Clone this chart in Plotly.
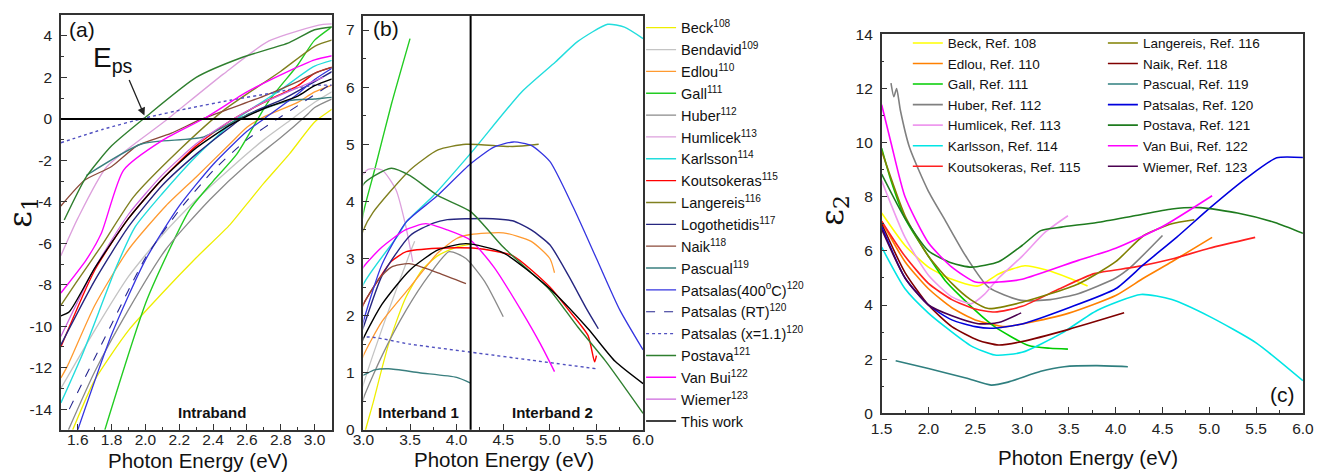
import plotly.graph_objects as go

W, H = 1319, 475
# the rendered page carries an 8px body margin and is scaled back to 1319x475;
# reference pixel positions are mapped through this before use
SX, SY, OFF = 1335 / 1319, 491 / 475, 8

# ---------------- epsilon_1 data (panels a & b), energy in eV ----------------
beck_x = [1.57, 1.7, 1.9, 2.1, 2.3, 2.5, 2.6, 2.7, 2.85, 3.0, 3.1, 3.27, 3.45, 3.63, 3.8, 4.0, 4.15]
beck_y = [-15.0, -12.6, -10.2, -8.4, -6.7, -5.1, -4.1, -3.1, -1.7, -0.15, 0.45, 1.5, 2.3, 2.8, 3.05, 3.2, 3.25]
bendavid_x = [1.5, 1.7, 1.9, 2.1, 2.3, 2.5, 2.7, 2.85, 3.0, 3.25, 3.5, 3.55]
bendavid_y = [-13.0, -10.2, -7.6, -5.6, -3.9, -2.4, -1.0, -0.1, 0.8, 2.0, 3.1, 3.3]
edlou_x = [1.5, 1.54, 1.7, 1.9, 2.12, 2.3, 2.5, 2.6, 2.7, 2.9, 3.0, 3.2, 3.5, 3.8, 4.0, 4.15, 4.5, 4.8, 5.0, 5.05]
edlou_y = [-12.5, -11.9, -9.0, -6.3, -4.2, -2.8, -1.2, -0.4, 0.1, 0.8, 1.3, 1.9, 2.5, 3.1, 3.35, 3.42, 3.45, 3.3, 3.0, 2.75]
gall_x = [1.76, 2.01, 2.26, 2.4, 2.54, 2.73, 2.9, 3.0, 3.12, 3.3, 3.5]
gall_y = [-15.0, -8.7, -4.4, -3.0, -1.7, 0.88, 2.6, 3.8, 4.55, 5.7, 6.85]
huber_x = [1.545, 1.7, 1.9, 2.12, 2.38, 2.6, 2.8, 2.96, 3.0, 3.2, 3.46, 3.7, 3.92, 4.1, 4.3, 4.5]
huber_y = [-15.0, -12.2, -9.2, -6.3, -3.9, -2.2, -0.9, 0.24, 0.55, 1.3, 2.1, 2.7, 3.12, 3.0, 2.6, 1.98]
humlicek_x = [1.5, 1.6, 1.77, 2.12, 2.46, 2.73, 3.05, 3.2, 3.35, 3.45, 3.53]
humlicek_y = [-6.6, -4.8, -2.32, -0.08, 2.16, 3.76, 4.56, 4.55, 4.2, 3.6, 2.94]
karlsson_x = [1.5, 1.63, 1.83, 1.94, 2.1, 2.3, 2.54, 2.8, 3.0, 3.37, 3.46, 3.75, 4.15, 4.7, 5.06, 5.3, 5.62, 5.8, 6.0]
karlsson_y = [-13.7, -11.3, -7.1, -5.2, -3.6, -1.8, 0.0, 1.4, 2.55, 3.4, 3.64, 4.1, 4.84, 5.92, 6.44, 6.8, 7.1, 7.05, 6.85]
koutso_x = [1.5, 1.7, 1.9, 2.1, 2.3, 2.5, 2.7, 2.9, 3.0, 3.17, 3.3, 3.46, 3.8, 4.2, 4.6, 5.0, 5.2, 5.41, 5.48, 5.5]
koutso_y = [-11.0, -7.3, -4.8, -2.9, -1.3, -0.1, 0.8, 1.6, 2.2, 2.65, 2.95, 3.12, 3.18, 3.18, 3.05, 2.5, 2.1, 1.65, 1.19, 1.3]
langereis_x = [1.5, 1.59, 1.75, 1.93, 2.2, 2.46, 2.8, 3.0, 3.1, 3.5, 3.8, 4.1, 4.6, 4.88]
langereis_y = [-9.0, -7.9, -6.0, -3.76, -1.5, 0.4, 2.3, 3.5, 3.8, 4.55, 4.9, 5.0, 4.96, 5.0]
logo_x = [1.5, 1.7, 1.9, 2.1, 2.3, 2.5, 2.6, 2.8, 3.0, 3.2, 3.5, 3.75, 3.9, 4.3, 4.6, 4.8, 5.0, 5.2, 5.4, 5.52]
logo_y = [-10.9, -7.8, -5.2, -3.2, -1.7, -0.4, 0.2, 0.9, 1.8, 2.7, 3.4, 3.62, 3.68, 3.7, 3.66, 3.5, 3.24, 2.7, 2.1, 1.77]
naik_x = [1.5, 1.64, 1.8, 1.95, 2.15, 2.32, 2.5, 2.7, 2.9, 3.0, 3.17, 3.3, 3.49, 3.8, 4.1]
naik_y = [-4.2, -2.96, -2.3, -1.3, -0.7, -0.05, 0.5, 1.1, 1.8, 2.2, 2.65, 2.85, 2.91, 2.75, 2.56]
pascual_x = [1.65, 1.98, 2.34, 2.57, 2.85, 3.0, 3.12, 3.27, 3.6, 4.0, 4.15]
pascual_y = [-2.73, -1.2, -0.88, 0.08, 0.88, 0.96, 1.05, 1.07, 1.0, 0.92, 0.82]
pats400_x = [1.6, 1.8, 2.0, 2.2, 2.4, 2.6, 2.7, 2.9, 3.0, 3.2, 3.46, 3.78, 4.15, 4.4, 4.61, 4.8, 5.0, 5.25, 5.5, 5.75, 6.0]
pats400_y = [-15.0, -10.4, -6.8, -4.2, -2.2, -0.6, 0.0, 1.2, 1.9, 2.9, 3.64, 4.08, 4.66, 4.95, 5.04, 4.98, 4.7, 3.9, 3.0, 2.1, 1.4]
patsRT_x = [1.55, 1.8, 2.0, 2.2, 2.4, 2.6, 2.8, 3.1]
patsRT_y = [-14.0, -9.9, -6.7, -4.4, -2.5, -1.0, 0.1, 1.7]
pats11_x = [1.5, 1.75, 2.0, 2.25, 2.5, 2.75, 3.0, 3.5, 4.15, 4.8, 5.5]
pats11_y = [-1.15, -0.5, 0.05, 0.5, 0.9, 1.25, 1.62, 1.5, 1.36, 1.22, 1.07]
postava_x = [1.52, 1.65, 1.8, 2.0, 2.3, 2.57, 2.85, 3.0, 3.12, 3.3, 3.5, 3.8, 4.15, 4.5, 4.8, 5.0, 5.3, 5.6, 6.0]
postava_y = [-4.88, -2.8, -1.3, 0.08, 2.0, 2.96, 3.68, 4.3, 4.45, 4.58, 4.45, 4.1, 3.82, 3.2, 2.75, 2.45, 1.8, 1.2, 0.29]
vanbui_x = [1.5, 1.65, 1.74, 1.87, 2.1, 2.36, 2.6, 2.85, 3.0, 3.2, 3.45, 3.67, 3.9, 4.15, 4.4, 4.7, 4.9, 5.05]
vanbui_y = [-8.4, -6.8, -5.5, -2.48, -1.04, 0.08, 1.3, 2.32, 2.85, 3.2, 3.5, 3.61, 3.5, 3.32, 2.85, 2.07, 1.5, 1.02]
wiemer_x = [1.5, 1.7, 1.9, 2.1, 2.3, 2.5, 2.7, 2.9, 3.05]
wiemer_y = [-10.5, -7.2, -4.6, -2.7, -1.2, -0.1, 0.8, 1.5, 2.0]
thiswork_x = [1.5, 1.55, 1.7, 1.9, 2.1, 2.3, 2.5, 2.7, 2.9, 3.0, 3.2, 3.5, 3.8, 4.1, 4.5, 5.0, 5.41, 5.7, 6.0]
thiswork_y = [-9.5, -9.3, -7.2, -4.8, -2.9, -1.4, -0.3, 0.5, 1.1, 1.6, 2.2, 2.8, 3.15, 3.26, 3.1, 2.47, 1.77, 1.2, 0.81]

# ---------------- epsilon_2 data (panel c) ----------------
beck2_x = [1.5, 1.75, 2.0, 2.25, 2.53, 2.75, 3.03, 3.25, 3.5, 3.7]
beck2_y = [7.4, 6.2, 5.4, 4.95, 4.7, 5.15, 5.45, 5.3, 5.0, 4.7]
edlou2_x = [1.5, 1.75, 2.0, 2.25, 2.5, 2.82, 3.0, 3.5, 4.0, 4.3, 4.6, 5.03]
edlou2_y = [7.1, 5.6, 4.6, 3.9, 3.45, 3.2, 3.3, 3.7, 4.35, 5.0, 5.6, 6.5]
gall2_x = [1.5, 1.6, 1.75, 2.0, 2.18, 2.5, 2.71, 3.07, 3.3, 3.49]
gall2_y = [9.8, 8.6, 7.2, 5.8, 4.9, 3.8, 3.19, 2.5, 2.4, 2.37]
huber2_x = [1.6, 1.63, 1.66, 1.7, 1.8, 2.0, 2.18, 2.4, 2.64, 2.99, 3.3, 3.6, 4.0, 4.16, 4.5]
huber2_y = [12.2, 11.7, 12.0, 11.2, 9.8, 8.2, 7.12, 5.8, 4.66, 4.17, 4.2, 4.42, 5.0, 5.4, 6.57]
humlicek2_x = [1.5, 1.75, 2.0, 2.25, 2.46, 2.6, 2.75, 3.0, 3.25, 3.49]
humlicek2_y = [8.6, 6.5, 5.1, 4.3, 4.05, 4.4, 5.0, 5.8, 6.7, 7.3]
karlsson2_x = [1.5, 1.75, 2.0, 2.18, 2.45, 2.71, 3.0, 3.42, 3.8, 4.27, 4.6, 5.01, 5.5, 6.0]
karlsson2_y = [6.14, 4.6, 3.7, 3.19, 2.5, 2.15, 2.25, 2.95, 3.8, 4.39, 4.2, 3.56, 2.6, 1.2]
koutso2_x = [1.5, 1.75, 2.0, 2.25, 2.5, 2.71, 3.0, 3.4, 3.77, 4.2, 4.6, 5.0, 5.49]
koutso2_y = [7.1, 5.8, 4.8, 4.2, 3.85, 3.74, 3.95, 4.6, 5.16, 5.4, 5.7, 6.1, 6.5]
langereis2_x = [1.5, 1.75, 2.0, 2.25, 2.45, 2.64, 3.0, 3.6, 4.0, 4.3, 4.6, 4.84]
langereis2_y = [9.7, 7.3, 5.8, 4.8, 4.2, 3.87, 4.1, 4.78, 5.6, 6.57, 7.0, 7.15]
naik2_x = [1.5, 1.75, 2.0, 2.25, 2.53, 2.75, 3.0, 3.5, 4.09]
naik2_y = [7.0, 5.2, 4.0, 3.2, 2.7, 2.52, 2.65, 3.1, 3.71]
pascual2_x = [1.65, 2.0, 2.4, 2.67, 2.85, 3.2, 3.45, 3.8, 4.13]
pascual2_y = [1.94, 1.65, 1.3, 1.04, 1.15, 1.55, 1.72, 1.76, 1.72]
patsalas2_x = [1.5, 1.75, 2.0, 2.25, 2.5, 2.67, 3.0, 3.5, 4.0, 4.3, 4.65, 5.01, 5.4, 5.72, 6.0]
patsalas2_y = [6.9, 5.0, 4.0, 3.45, 3.2, 3.14, 3.3, 3.9, 4.6, 5.5, 6.5, 7.6, 8.7, 9.44, 9.45]
postava2_x = [1.5, 1.75, 2.0, 2.25, 2.46, 2.75, 3.0, 3.2, 3.42, 3.8, 4.2, 4.6, 4.9, 5.3, 5.7, 6.0]
postava2_y = [8.84, 7.2, 6.0, 5.55, 5.4, 5.6, 6.2, 6.75, 6.88, 7.05, 7.3, 7.55, 7.6, 7.4, 7.05, 6.65]
vanbui2_x = [1.5, 1.6, 1.75, 2.0, 2.25, 2.5, 2.75, 3.0, 3.6, 4.0, 4.5, 5.03]
vanbui2_y = [11.4, 10.0, 8.0, 6.3, 5.4, 4.85, 4.85, 4.95, 5.65, 6.1, 6.9, 8.04]
wiemer2_x = [1.5, 1.75, 2.0, 2.25, 2.53, 2.75, 2.99]
wiemer2_y = [6.8, 5.0, 4.0, 3.6, 3.31, 3.35, 3.71]

# tick labels
a_xticks = [1.6, 1.8, 2.0, 2.2, 2.4, 2.6, 2.8, 3.0]
a_yticks = [-14, -12, -10, -8, -6, -4, -2, 0, 2, 4]
b_xticks = [3.0, 3.5, 4.0, 4.5, 5.0, 5.5, 6.0]
b_yticks = [0, 1, 2, 3, 4, 5, 6, 7]
c_xticks = [1.5, 2.0, 2.5, 3.0, 3.5, 4.0, 4.5, 5.0, 5.5, 6.0]
c_yticks = [0, 2, 4, 6, 8, 10, 12, 14]

# (name, x, y, color, dash, width, drawn in panel b?)
e1_series = [
    ("Beck<sup>108</sup>", beck_x, beck_y, "#EEEE00", "solid", 1.3, True),
    ("Bendavid<sup>109</sup>", bendavid_x, bendavid_y, "#C4C4C4", "solid", 1.3, True),
    ("Edlou<sup>110</sup>", edlou_x, edlou_y, "#FF9A30", "solid", 1.3, True),
    ("Gall<sup>111</sup>", gall_x, gall_y, "#22CC22", "solid", 1.4, True),
    ("Huber<sup>112</sup>", huber_x, huber_y, "#8A8A8A", "solid", 1.3, True),
    ("Humlicek<sup>113</sup>", humlicek_x, humlicek_y, "#DDA0DD", "solid", 1.3, True),
    ("Karlsson<sup>114</sup>", karlsson_x, karlsson_y, "#22DDDD", "solid", 1.4, True),
    ("Koutsokeras<sup>115</sup>", koutso_x, koutso_y, "#FF0000", "solid", 1.4, True),
    ("Langereis<sup>116</sup>", langereis_x, langereis_y, "#808020", "solid", 1.4, True),
    ("Logothetidis<sup>117</sup>", logo_x, logo_y, "#262680", "solid", 1.4, True),
    ("Naik<sup>118</sup>", naik_x, naik_y, "#8B4A3A", "solid", 1.3, True),
    ("Pascual<sup>119</sup>", pascual_x, pascual_y, "#3A7F7F", "solid", 1.4, True),
    ("Patsalas(400<sup>o</sup>C)<sup>120</sup>", pats400_x, pats400_y, "#3535E0", "solid", 1.3, True),
    ("Patsalas (RT)<sup>120</sup>", patsRT_x, patsRT_y, "#262690", "dash", 1.1, False),
    ("Patsalas (x=1.1)<sup>120</sup>", pats11_x, pats11_y, "#5050C0", "dot", 1.4, True),
    ("Postava<sup>121</sup>", postava_x, postava_y, "#2F7F2F", "solid", 1.4, True),
    ("Van Bui<sup>122</sup>", vanbui_x, vanbui_y, "#FF00FF", "solid", 1.4, True),
    ("Wiemer<sup>123</sup>", wiemer_x, wiemer_y, "#CC66DD", "solid", 1.2, False),
    ("This work", thiswork_x, thiswork_y, "#000000", "solid", 1.4, True),
]

e2_col1 = [
    ("Beck, Ref. 108", beck2_x, beck2_y, "#FFFF00"),
    ("Edlou, Ref. 110", edlou2_x, edlou2_y, "#FF8000"),
    ("Gall, Ref. 111", gall2_x, gall2_y, "#00CC00"),
    ("Huber, Ref. 112", huber2_x, huber2_y, "#808080"),
    ("Humlicek, Ref. 113", humlicek2_x, humlicek2_y, "#EE99EE"),
    ("Karlsson, Ref. 114", karlsson2_x, karlsson2_y, "#00E5E5"),
    ("Koutsokeras, Ref. 115", koutso2_x, koutso2_y, "#FF2020"),
]
e2_col2 = [
    ("Langereis, Ref. 116", langereis2_x, langereis2_y, "#808000"),
    ("Naik, Ref. 118", naik2_x, naik2_y, "#800000"),
    ("Pascual, Ref. 119", pascual2_x, pascual2_y, "#2F7F7F"),
    ("Patsalas, Ref. 120", patsalas2_x, patsalas2_y, "#0000DD"),
    ("Postava, Ref. 121", postava2_x, postava2_y, "#1E7B1E"),
    ("Van Bui, Ref. 122", vanbui2_x, vanbui2_y, "#FF00FF"),
    ("Wiemer, Ref. 123", wiemer2_x, wiemer2_y, "#4B0050"),
]

FONT = "Liberation Sans, Arial, sans-serif"


def px(v):
    return (v * SX - OFF) / W


def py(v):
    return 1 - (v * SY - OFF) / H


fig = go.Figure()

# panel (a) traces
for name, x, y, c, d, w, inb in e1_series:
    fig.add_trace(go.Scatter(
        x=x, y=y, mode="lines", name=name, xaxis="x", yaxis="y",
        line=dict(color=c, dash=d, width=w, shape="spline", smoothing=0.6),
        showlegend=False, hoverinfo="skip"))

# panel (b) traces, which also carry the legend entries (in legend order)
for name, x, y, c, d, w, inb in e1_series:
    fig.add_trace(go.Scatter(
        x=x if inb else [None], y=y if inb else [None], mode="lines", name=name,
        xaxis="x2", yaxis="y2",
        line=dict(color=c, dash=d, width=w, shape="spline", smoothing=0.6),
        showlegend=True, legend="legend", hoverinfo="skip"))

# panel (c) traces
for lg, group in (("legend2", e2_col1), ("legend3", e2_col2)):
    for name, x, y, c in group:
        fig.add_trace(go.Scatter(
            x=x, y=y, mode="lines", name=name, xaxis="x3", yaxis="y3",
            line=dict(color=c, width=1.6, shape="spline", smoothing=0.6),
            showlegend=True, legend=lg, hoverinfo="skip"))

axis_common = dict(
    showline=True, linecolor="#333333", linewidth=1.5, mirror=True,
    ticks="inside", ticklen=6, tickwidth=1.2, tickcolor="#333333",
    showgrid=False, zeroline=False,
    tickfont=dict(family=FONT, size=15.5, color="#222222"),
)

fig.update_layout(
    width=W, height=H,
    margin=dict(l=0, r=0, t=0, b=0),
    paper_bgcolor="white", plot_bgcolor="white",
    font=dict(family=FONT, color="#111111"),
    xaxis=dict(domain=[px(58), px(330)], range=[1.5, 3.1], anchor="y",
               tickvals=a_xticks, ticktext=[f"{v:.1f}" for v in a_xticks],
               minor=dict(ticks="inside", ticklen=3, dtick=0.1, tickcolor="#333333"),
               ticklabelstandoff=-5, **axis_common),
    yaxis=dict(domain=[py(430), py(14)], range=[-15, 5], anchor="x",
               tickvals=a_yticks, ticktext=[str(v) for v in a_yticks],
               minor=dict(ticks="inside", ticklen=3, dtick=1, tickcolor="#333333"),
               ticklabelstandoff=4, **axis_common),
    xaxis2=dict(domain=[px(362), px(643)], range=[3.0, 6.0], anchor="y2",
                tickvals=b_xticks, ticktext=[f"{v:.1f}" for v in b_xticks],
                minor=dict(ticks="inside", ticklen=3, dtick=0.25, tickcolor="#333333"),
                ticklabelstandoff=-5, **axis_common),
    yaxis2=dict(domain=[py(430), py(14.5)], range=[0, 7.25], anchor="x2",
                tickvals=b_yticks, ticktext=[str(v) for v in b_yticks],
                minor=dict(ticks="inside", ticklen=3, dtick=0.5, tickcolor="#333333"),
                ticklabelstandoff=4, **axis_common),
    xaxis3=dict(domain=[px(882.7), px(1306)], range=[1.5, 6.0], anchor="y3",
                tickvals=c_xticks, ticktext=[f"{v:.1f}" for v in c_xticks],
                minor=dict(ticks="inside", ticklen=3, dtick=0.25, tickcolor="#333333"),
                ticklabelstandoff=0, **axis_common),
    yaxis3=dict(domain=[py(413.3), py(33.3)], range=[0, 14], anchor="x3",
                tickvals=c_yticks, ticktext=[str(v) for v in c_yticks],
                minor=dict(ticks="inside", ticklen=3, dtick=1, tickcolor="#333333"),
                ticklabelstandoff=4, **axis_common),
    legend=dict(x=px(641), y=py(10.5), xanchor="left", yanchor="top",
                bgcolor="rgba(0,0,0,0)", traceorder="normal", tracegroupgap=0,
                font=dict(family=FONT, size=14.5, color="#111111")),
    legend2=dict(x=px(909), y=py(26.5), xanchor="left", yanchor="top",
                 bgcolor="rgba(0,0,0,0)", traceorder="normal", tracegroupgap=0,
                 font=dict(family=FONT, size=13.5, color="#111111")),
    legend3=dict(x=px(1105), y=py(26.5), xanchor="left", yanchor="top",
                 bgcolor="rgba(0,0,0,0)", traceorder="normal", tracegroupgap=0,
                 font=dict(family=FONT, size=13.5, color="#111111")),
)

# reference lines
fig.add_shape(type="line", xref="x domain", yref="y", x0=0, x1=1, y0=0, y1=0,
              line=dict(color="black", width=2), layer="above")
fig.add_shape(type="line", xref="x2", yref="y2 domain", x0=4.15, x1=4.15, y0=0, y1=1,
              line=dict(color="black", width=2), layer="above")


def label(text, xp, yp, size, family=FONT, angle=0):
    return dict(text=text, x=px(xp), y=py(yp), xref="paper", yref="paper",
                xanchor="center", yanchor="middle", showarrow=False, textangle=angle,
                font=dict(size=size, family=family, color="#111111"))


ann = [
    label("(a)", 79, 28, 21),
    label("(b)", 385, 27, 21),
    label("(c)", 1285, 395, 21),
    label("<b>Intraband</b>", 210, 413, 15),
    label("<b>Interband 1</b>", 417, 413, 15),
    label("<b>Interband 2</b>", 552, 413, 15),
    label("E<sub>ps</sub>", 110, 58, 28),
    label("Photon Energy (eV)", 196, 461, 20.5),
    label("Photon Energy (eV)", 503, 460, 20.5),
    label("Photon Energy (eV)", 1090, 458, 20.5),
    label("ε<sub>1</sub>", 19, 212, 32, "DejaVu Serif, serif", -90),
    label("ε<sub>2</sub>", 834, 210, 32, "DejaVu Serif, serif", -90),
    dict(text="", x=1.994, y=0.16, xref="x", yref="y", ax=1.9, ay=1.95,
         axref="x", ayref="y", showarrow=True, arrowhead=2, arrowsize=1.2,
         arrowwidth=1.3, arrowcolor="#222"),
]
fig.update_layout(annotations=ann)

fig.write_html("out.html")
